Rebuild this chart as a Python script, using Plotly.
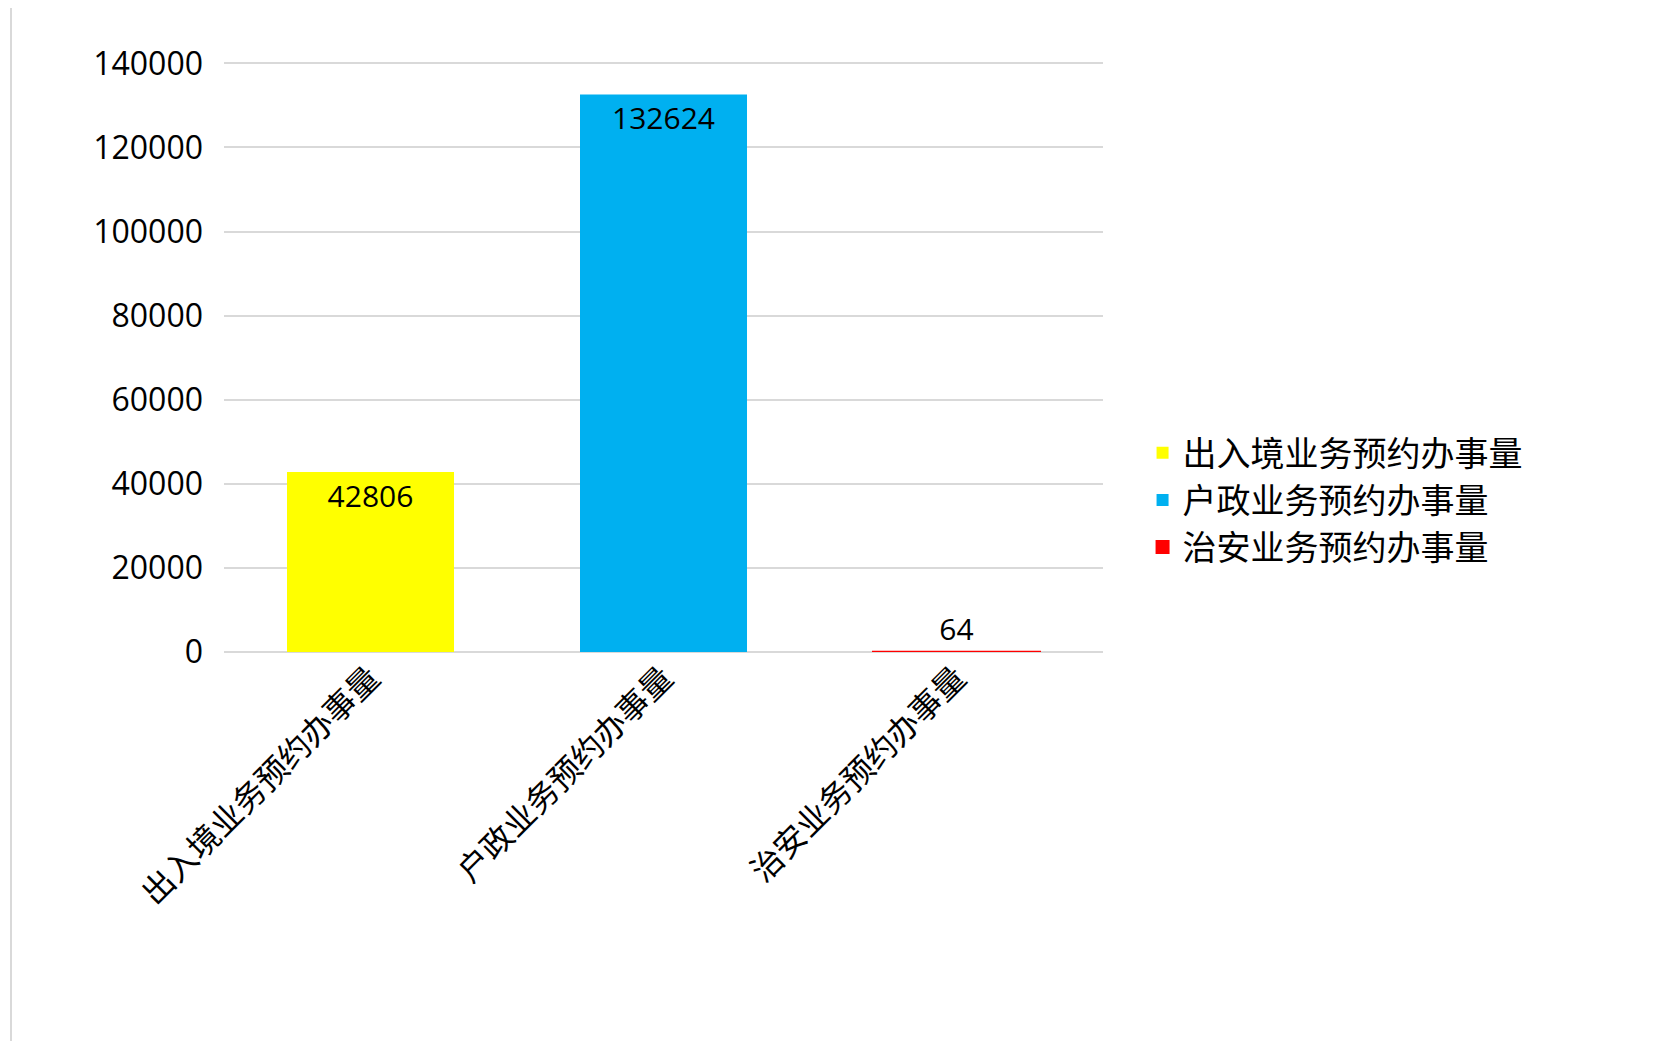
import plotly.graph_objects as go

categories = ["出入境业务预约办事量", "户政业务预约办事量", "治安业务预约办事量"]
values = [42806, 132624, 64]
colors = ["#FFFF00", "#00B0F0", "#FF0000"]
y_ticks = [0, 20000, 40000, 60000, 80000, 100000, 120000, 140000]
y_tick_labels = ["0", "20000", "40000", "60000", "80000", "100000", "120000", "140000"]

fig = go.Figure()
for c, v, col in zip(categories, values, colors):
    big = v > 10000
    fig.add_trace(go.Bar(
        x=[c], y=[v], name=c, marker=dict(color=col, line=dict(color=col, width=0 if big else 2)),
        width=0.57,
        text=[str(v)], textposition="inside" if big else "outside",
        insidetextanchor="end", cliponaxis=False,
        textfont=dict(size=30, color="black", family="Open Sans"),
    ))

L, R, T, B = 216, 559, 52, 397
pw, ph = 1654 - L - R, 1041 - T - B
fig.update_layout(
    width=1654, height=1041, barmode="overlay",
    paper_bgcolor="white", plot_bgcolor="white",
    margin=dict(l=L, r=R, t=T, b=B),
    font=dict(family="Noto Sans CJK SC", color="black"),
    uniformtext=dict(minsize=28, mode="show"),
    legend=dict(x=1.045, xanchor="left", y=0.385, yanchor="top", font=dict(size=34),
                itemwidth=30, tracegroupgap=6),
    shapes=[dict(type="rect", xref="paper", yref="paper",
                 x0=-(L - 3) / pw, x1=(1654 - L - 3) / pw, y0=-(B - 3) / ph, y1=(1041 - T - 3) / ph,
                 line=dict(color="#D9D9D9", width=2))],
)
fig.update_xaxes(tickangle=-45, tickfont=dict(size=32), showline=False, ticks="")
fig.update_yaxes(range=[0, 140800], tickvals=y_ticks, ticktext=y_tick_labels,
                 showgrid=True, gridcolor="#D9D9D9", gridwidth=2,
                 zeroline=True, zerolinecolor="#D9D9D9", zerolinewidth=2,
                 tickfont=dict(size=32, family="Open Sans"), ticklabelstandoff=20)
fig.write_html("out.html")
